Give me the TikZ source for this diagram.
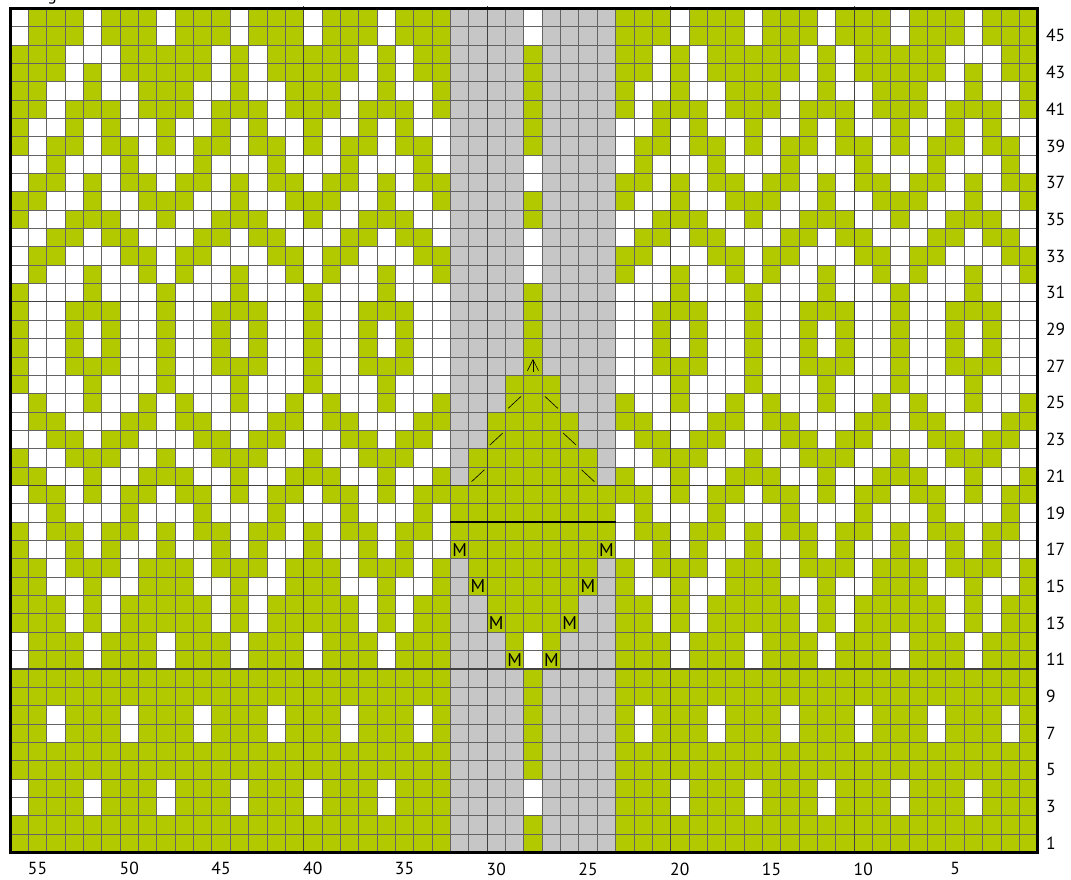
\documentclass[tikz,border=0pt]{standalone}
\usepackage{fontspec}
\setmainfont{PT Sans}
\definecolor{kgreen}{RGB}{178,201,0}
\definecolor{kgray}{RGB}{198,198,198}
\definecolor{kline}{RGB}{100,100,100}
\definecolor{kmajor}{RGB}{65,65,65}
\tikzset{
  gridline/.style={kline, line width=0.8pt},
  majorline/.style={kmajor, line width=1.2pt},
  borderline/.style={black, line width=3pt},
  symline/.style={black, line width=0.6pt},
  msym/.style={font=\fontsize{18.5}{19}\selectfont, inner sep=0pt},
  lbl/.style={font=\fontsize{17.5}{18}\selectfont, inner sep=0pt},
}
\begin{document}
\begin{tikzpicture}[x=1pt,y=1pt]
\useasboundingbox (0,0) rectangle (1071,879);
\begin{scope}[shift={(10,26.6)}, x=18.35pt, y=18.35pt]
  % base
  \fill[kgreen] (0,0) rectangle (56,46);
  % periodic white cells (period 8)
  \foreach \r/\ws in {46/{0,4},45/{0,4},44/{3,5},43/{3,5},42/{2,3,5,6},41/{2,6},40/{1,2,4,6,7},39/{1,4,7},38/{0,1,3,4,5,7},37/{0,3,5},36/{2,3,5,6},35/{1,2,6,7},34/{0,1,4,7},33/{0,3,4,5},32/{0,2,3,5,6},31/{1,2,3,5,6,7},30/{1,2,6,7},29/{1,2,4,6,7},28/{1,2,4,6,7},27/{1,2,6,7},26/{1,2,3,5,6,7},25/{0,2,3,5,6},24/{0,3,4,5},23/{0,1,4,7},22/{1,2,6,7},21/{2,3,5,6},20/{0,3,5},19/{0,1,3,4,5,7},18/{1,4,7},17/{1,2,4,6,7},16/{2,6},15/{2,3,5,6},14/{3,5},13/{3,5},12/{0,4},11/{0,4},8/{2,6},7/{2,6},4/{0,4},3/{0,4}}{
    \foreach \m in \ws {
      \foreach \k in {0,...,6} {
        \pgfmathtruncatemacro\ii{\m+8*\k}
        \ifnum\ii<56\relax
          \fill[white] (\ii,\r-1) rectangle ++(1,1);
        \fi
      }
    }
  }
  % exceptions
  \fill[white] (4,43) rectangle ++(1,1);
  \fill[white] (52,43) rectangle ++(1,1);
  % centre panel
  \fill[kgray] (24,0) rectangle (28,46);
  \fill[kgray] (29,0) rectangle (33,46);
  \fill[kgreen] (28,0) rectangle (29,46);
  \foreach \r in {46,45,38,37,34,33,32,12,11,4,3}
    \fill[white] (28,\r-1) rectangle ++(1,1);
  \foreach \r/\a/\b in {26/27/29,25/27/29,24/26/30,23/26/30,22/25/31,21/25/31,20/24/32,19/24/32,18/24/32,17/24/32,16/25/31,15/25/31,14/26/30,13/26/30}
    \fill[kgreen] (\a,\r-1) rectangle (\b+1,\r);
  \foreach \r in {12,11} {
    \fill[kgreen] (27,\r-1) rectangle ++(1,1);
    \fill[kgreen] (29,\r-1) rectangle ++(1,1);
  }
  % grid
  \draw[gridline, step=1] (0,0) grid (56,46);
  \foreach \x in {16,26,36,46} \draw[majorline] (\x,0) -- (\x,46.15);
  \foreach \y in {10,20,30} \draw[majorline] (0,\y) -- (56,\y);
  \draw[borderline] (0,0) rectangle (56,46);
  \draw[black, line width=2.6pt] (24,18) -- (33,18);
  % symbols
  \foreach \x/\y [count=\n] in {24/17,32/17,25/15,31/15,26/13,30/13,27/11,29/11}
    \node[msym] (m\n) at (\x+0.5,\y-0.5) {M};
  \foreach \x/\y in {27/25,26/23,25/21}
    \draw[symline] (\x+0.15,\y-0.8) -- (\x+0.85,\y-0.15);
  \foreach \x/\y in {29/25,30/23,31/21}
    \draw[symline] (\x+0.15,\y-0.15) -- (\x+0.85,\y-0.8);
  \draw[symline] (28.2,26.25) -- (28.5,26.85) -- (28.8,26.25);
  \draw[symline] (28.5,26.85) -- (28.5,26.2);
  % labels
  \foreach \r in {1,3,...,45}
    \node[lbl, anchor=west] (row\r) at (56.45,\r-0.5) {\r};
  \foreach \c in {55,50,45,40,35}
    \node[lbl] (col\c) at (56.5-\c,-0.86) {\c};
  \foreach \c in {30,25,20,15,10,5}
    \node[lbl] (col\c) at (56.5-\c,-0.9) {\c};
  \node[lbl, anchor=base] (title) at (2.29,46.43) {g};
\end{scope}
\end{tikzpicture}
\end{document}
